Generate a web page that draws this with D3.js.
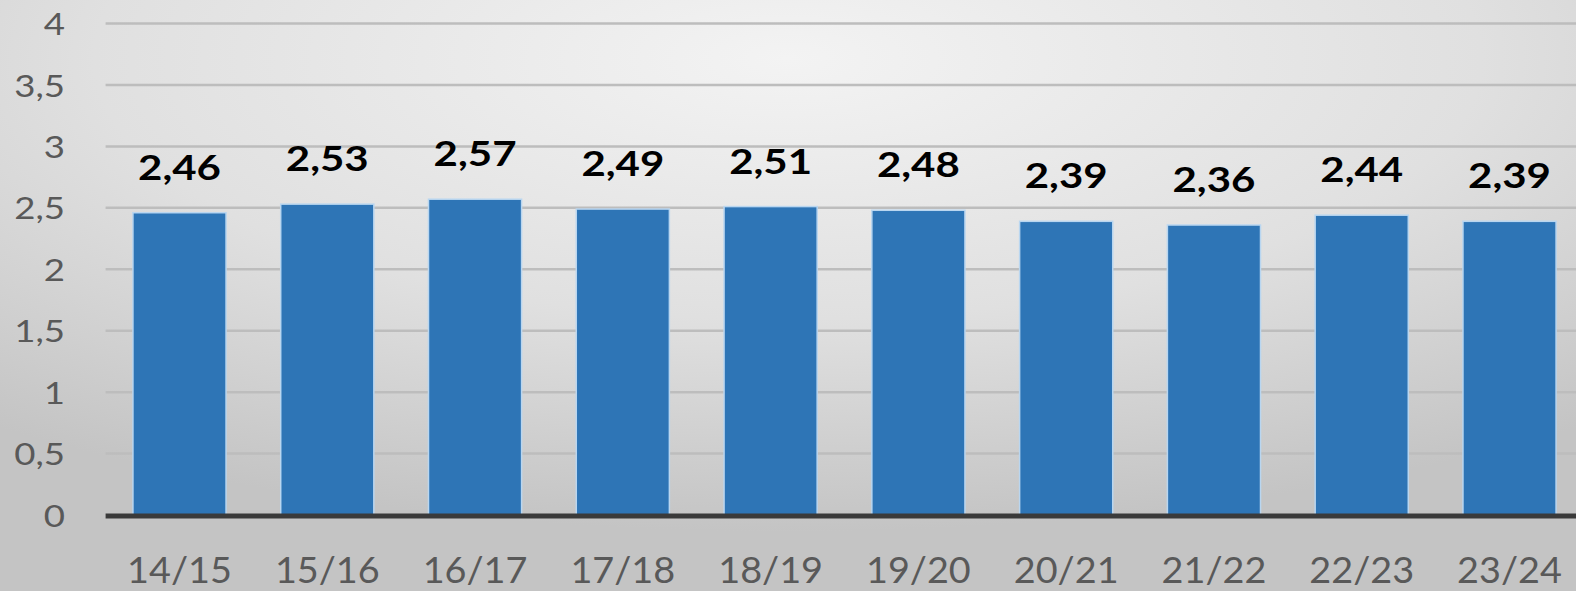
<!DOCTYPE html>
<html><head><meta charset="utf-8">
<script src="https://cdn.jsdelivr.net/npm/d3@7"></script>
<style>html,body{margin:0;padding:0;overflow:hidden;}</style>
</head><body>
<svg id="c" width="1576" height="591"></svg>
<script>
const categories = ["14/15","15/16","16/17","17/18","18/19","19/20","20/21","21/22","22/23","23/24"];
const values = [2.46,2.53,2.57,2.49,2.51,2.48,2.39,2.36,2.44,2.39];
const yTicks = [0,0.5,1,1.5,2,2.5,3,3.5,4];

const W = 1576, H = 591;
const svg = d3.select("#c");
const defs = svg.append("defs");
const g = defs.append("radialGradient").attr("id","bg").attr("cx","50%").attr("cy","10%").attr("r","80%")
  .attr("gradientUnits","objectBoundingBox");
g.append("stop").attr("offset","0%").attr("stop-color","#f3f3f3");
g.append("stop").attr("offset","55%").attr("stop-color","#e0e0e0");
g.append("stop").attr("offset","100%").attr("stop-color","#c4c4c4");
svg.append("rect").attr("width",W).attr("height",H).attr("fill","url(#bg)");

const x = d3.scaleBand().domain(categories).range([105.6, 1583.4]).paddingInner(0.37).paddingOuter(0.185);
const y = d3.scaleLinear().domain([0,4]).range([515, 23.5]);

const fmt = v => String(v).replace(".", ",");
const FONT = "Lato, 'Open Sans', sans-serif";

// gridlines
svg.append("g").selectAll("line").data(yTicks.filter(d=>d>0)).join("line")
  .attr("x1",105.6).attr("x2",W).attr("y1",d=>y(d)).attr("y2",d=>y(d))
  .attr("stroke","#bdbdbd").attr("stroke-width",2.5);

// y axis labels
const yAxis = d3.axisLeft(y).tickValues(yTicks).tickFormat(fmt).tickSize(0).tickPadding(0);
const ya = svg.append("g").attr("transform","translate(65,0)").call(yAxis);
ya.select(".domain").remove();
ya.selectAll("text").attr("font-family",FONT).attr("font-size",31)
  .attr("fill","#595959").attr("dy","0.36em").attr("transform","scale(1.18,1)");

// bars
svg.append("g").selectAll("rect").data(values).join("rect")
  .attr("x",(d,i)=>x(categories[i])).attr("width",x.bandwidth())
  .attr("y",d=>y(d)).attr("height",d=>y(0)-y(d))
  .attr("fill","#2e75b6").attr("stroke","#b9d6f0").attr("stroke-width",1.5);

// x axis line
svg.append("line").attr("x1",105.6).attr("x2",W).attr("y1",y(0)+1).attr("y2",y(0)+1)
  .attr("stroke","#3a3a3a").attr("stroke-width",5);

// x axis labels
const xAxis = d3.axisBottom(x).tickSize(0).tickPadding(0);
const xa = svg.append("g").attr("transform","translate(0,583)").call(xAxis);
xa.select(".domain").remove();
xa.selectAll("text").attr("font-family",FONT).attr("font-size",36)
  .attr("fill","#595959").attr("dy",0).attr("transform","scale(1.05,1)");
xa.selectAll(".tick").each(function(){
  // keep tick centred despite horizontal scale (scale is applied around tick origin)
});

// data labels
svg.append("g").selectAll("text").data(values).join("text")
  .attr("transform",(d,i)=>`translate(${x(categories[i])+x.bandwidth()/2},${y(d)-33}) scale(1.2,1)`)
  .attr("text-anchor","middle").attr("font-family",FONT)
  .attr("font-weight","bold").attr("font-size",35).attr("fill","#000")
  .text(fmt);
</script>
</body></html>
